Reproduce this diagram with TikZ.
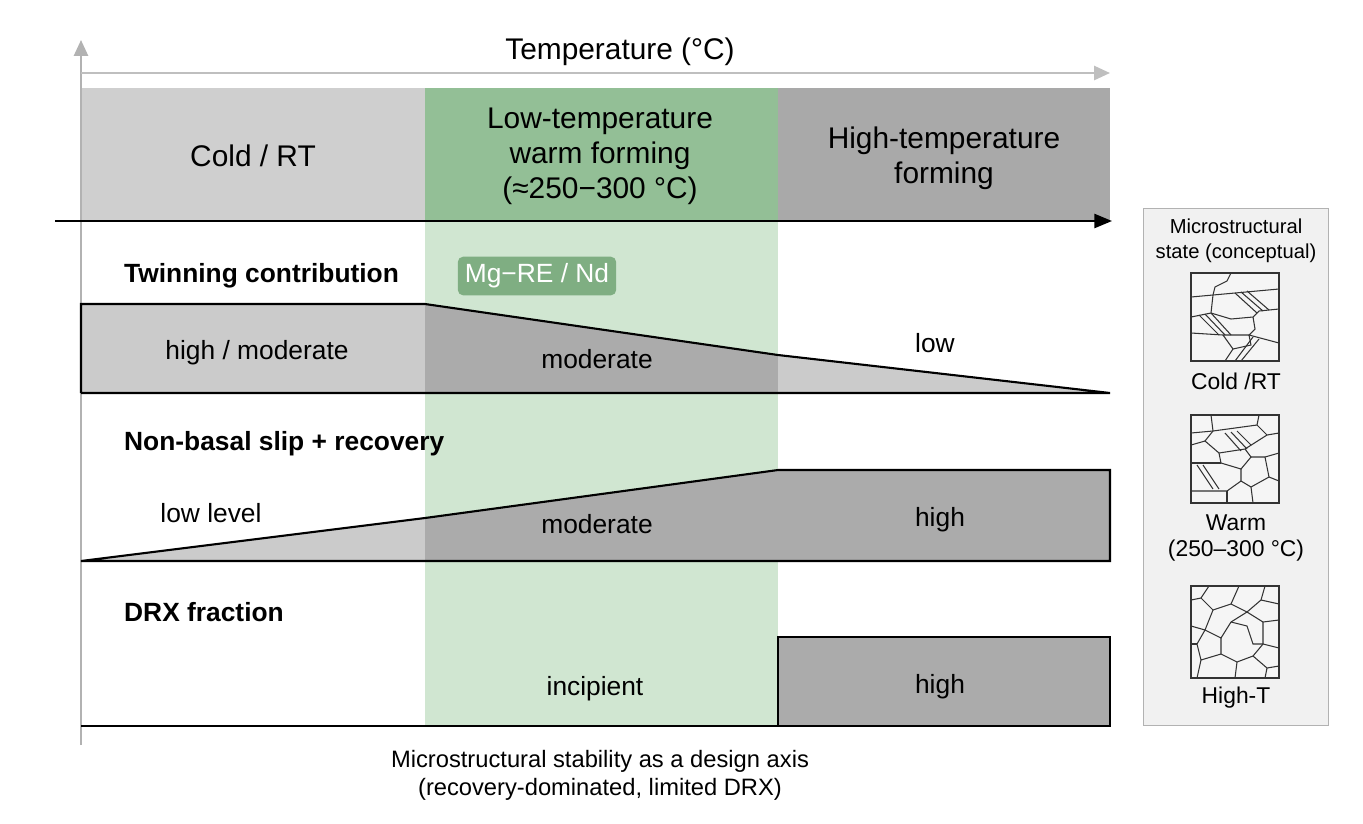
\documentclass[tikz,border=0pt]{standalone}
\usepackage{fontspec}
\setmainfont{Liberation Sans}
\usetikzlibrary{arrows.meta}
\definecolor{coldgray}{HTML}{CFCFCF}
\definecolor{hotgray}{HTML}{A9A9A9}
\definecolor{warmgreen}{HTML}{93BF96}
\definecolor{palegreen}{HTML}{D0E6D1}
\definecolor{badgegreen}{HTML}{7FAE82}
\definecolor{midgray}{HTML}{ABABAB}
\definecolor{lightgray}{HTML}{CBCBCB}
\definecolor{panelgray}{HTML}{F1F1F1}

\begin{document}
\begin{tikzpicture}[x=0.02cm, y=-0.02cm,
	band/.style={font=\fontsize{17}{20}\selectfont, align=center},
	heading/.style={font=\fontsize{15}{18}\selectfont\bfseries, anchor=west},
	level/.style={font=\fontsize{15}{18}\selectfont},
	small/.style={font=\fontsize{11.5}{14}\selectfont, align=center},
	grain/.style={line width=0.6pt, black!80},
	]
	\useasboundingbox (0,0) rectangle (1363,823);
	
	% header bands and warm window
	\fill[palegreen] (425,220) rectangle (778,727);
	\fill[coldgray] (81,88) rectangle (425,220);
	\fill[warmgreen] (425,88) rectangle (778,220);
	\fill[hotgray] (778,88) rectangle (1110,220);
	\node[band] at (253,156) (cold) {Cold / RT};
	\node[band] at (600,156) (warm) {Low-temperature\\warm forming\\(≈250−300 °C)};
	\node[band] at (944,158) (hot) {High-temperature\\forming};
	
	% axes
	\coordinate (yaxis0) at (81,745);
	\coordinate (yaxis1) at (81,40);
	\coordinate (taxis0) at (81,73);
	\coordinate (taxis1) at (1110,73);
	\coordinate (xaxis0) at (55,221);
	\coordinate (xaxis1) at (1112,221);
	\draw[black!30, line width=1.2pt, -{Triangle[width=8pt,length=9pt]}] (yaxis0) -- (yaxis1);
	\draw[black!25, line width=1.2pt, -{Triangle[width=8pt,length=9pt]}] (taxis0) -- (taxis1);
	\draw[black, line width=1.2pt, -{Triangle[width=8pt,length=10pt]}] (xaxis0) -- (xaxis1);
	\node[band] at (620,52) (temp) {Temperature (°C)};
	
	% twinning contribution
	\node[heading] at (118,276) (twin) {Twinning contribution};
	\node[fill=badgegreen, text=white, rounded corners=3pt, level, inner sep=4pt] at (537,276) (badge) {Mg−RE / Nd};
	\fill[lightgray] (81,304) -- (425,304) -- (425,393) -- (81,393) -- cycle;
	\fill[midgray] (425,304) -- (778,355) -- (778,393) -- (425,393) -- cycle;
	\fill[lightgray] (778,355) -- (1110,393) -- (778,393) -- cycle;
	\draw[line width=1.2pt] (81,393) -- (81,304) -- (425,304) -- (778,355) -- (1110,393) -- (81,393);
	\node[level] at (257,353) (twinhigh) {high / moderate};
	\node[level] at (597,359) (twinmod) {moderate};
	\node[level] at (935,343) (twinlow) {low};
	
	% non-basal slip + recovery
	\node[heading] at (118,444) (slip) {Non-basal slip + recovery};
	\fill[lightgray] (81,561) -- (425,518) -- (425,561) -- cycle;
	\fill[midgray] (425,518) -- (778,470) -- (1110,470) -- (1110,561) -- (425,561) -- cycle;
	\draw[line width=1.2pt] (81,561) -- (425,518) -- (778,470) -- (1110,470) -- (1110,561) -- cycle;
	\node[level] at (211,513) (sliplow) {low level};
	\node[level] at (597,524) (slipmod) {moderate};
	\node[level] at (940,520) (sliphigh) {high};
	
	% DRX fraction
	\node[heading] at (118,612) (drx) {DRX fraction};
	\fill[midgray] (778,637) rectangle (1110,726);
	\draw[line width=1.2pt] (81,726) -- (778,726) -- (778,637) -- (1110,637) -- (1110,726) -- (778,726);
	\node[level] at (595,689) (drxinc) {incipient};
	\node[level] at (940,687) (drxhigh) {high};
	
	\node[font=\fontsize{13.5}{16}\selectfont, align=center] at (600,775) (caption) {Microstructural stability as a design axis\\(recovery-dominated, limited DRX)};
	
	% microstructure panel
	\draw[black!30, fill=panelgray] (1143,208) rectangle (1328,725);
	\node[small] at (1236,241) (paneltitle) {Microstructural\\state (conceptual)};
	\node[small, font=\fontsize{13}{15}\selectfont] at (1236,381) (coldlbl) {Cold /RT};
	\node[small, font=\fontsize{13}{15}\selectfont] at (1236,538) (warmlbl) {Warm\\(250–300 °C)};
	\node[small, font=\fontsize{13}{15}\selectfont] at (1236,698) (hotlbl) {High-T};
	
	% cold grains
	\begin{scope}[shift={(1191,273)}]
		\fill[white!96!black] (0,0) rectangle (88,88);
		\draw[grain] (0,24) -- (22,22) -- (88,16);
		\draw[grain] (40,0) -- (36,8) -- (24,14) -- (22,22);
		\draw[grain] (22,22) -- (20,40) -- (0,44);
		\draw[grain] (20,40) -- (40,46) -- (62,44) -- (68,38) -- (88,36);
		\draw[grain] (62,44) -- (64,56) -- (58,62) -- (88,70);
		\draw[grain] (58,62) -- (32,62) -- (0,60);
		\draw[grain] (32,62) -- (42,76) -- (34,88);
		\draw[grain] (42,76) -- (60,72) -- (58,62);
		\draw[grain] (44,20) -- (66,40);
		\draw[grain] (50,19) -- (72,38);
		\draw[grain] (56,18) -- (78,37);
		\draw[grain] (8,42) -- (28,62);
		\draw[grain] (14,41) -- (34,62);
		\draw[grain] (20,40) -- (40,62);
		\draw[grain] (44,88) -- (62,64);
		\draw[grain] (50,88) -- (68,66);
		\draw[grain] (0,0) rectangle (88,88);
	\end{scope}
	
	% warm grains
	\begin{scope}[shift={(1191,415)}]
		\fill[white!96!black] (0,0) rectangle (88,88);
		\draw[grain] (0,18) -- (22,16) -- (66,10) -- (68,0);
		\draw[grain] (22,16) -- (20,0);
		\draw[grain] (66,10) -- (76,20) -- (88,18);
		\draw[grain] (22,16) -- (14,26) -- (28,38);
		\draw[grain] (0,30) -- (14,26);
		\draw[grain] (28,38) -- (54,34) -- (76,20);
		\draw[grain] (28,38) -- (30,48) -- (50,54) -- (60,42) -- (54,34);
		\draw[grain] (60,42) -- (74,42) -- (78,62) -- (88,66);
		\draw[grain] (74,42) -- (88,38);
		\draw[grain] (50,54) -- (50,66) -- (60,72) -- (78,62);
		\draw[grain] (30,48) -- (0,48);
		\draw[grain] (50,66) -- (36,76) -- (0,76);
		\draw[grain] (60,72) -- (62,88);
		\draw[grain] (36,76) -- (36,88);
		\draw[grain] (34,18) -- (50,36);
		\draw[grain] (40,17) -- (56,34);
		\draw[grain] (46,16) -- (60,30);
		\draw[grain] (6,50) -- (22,74);
		\draw[grain] (12,50) -- (28,74);
		\draw[grain] (0,0) rectangle (88,88);
	\end{scope}
	
	% high-T grains
	\begin{scope}[shift={(1191,586)}]
		\fill[white!96!black] (0,0) rectangle (88,92);
		\draw[grain] (0,14) -- (10,12) -- (18,0);
		\draw[grain] (10,12) -- (22,24) -- (40,18) -- (48,0);
		\draw[grain] (40,18) -- (56,26) -- (70,14) -- (74,0);
		\draw[grain] (70,14) -- (88,18);
		\draw[grain] (0,40) -- (14,44) -- (22,24);
		\draw[grain] (14,44) -- (30,52) -- (40,36) -- (56,26);
		\draw[grain] (56,26) -- (72,36) -- (88,34);
		\draw[grain] (72,36) -- (72,58) -- (88,62);
		\draw[grain] (30,52) -- (30,68) -- (46,76) -- (62,70) -- (72,58);
		\draw[grain] (40,36) -- (56,40) -- (62,58) -- (72,58);
		\draw[grain] (14,44) -- (6,58) -- (10,74) -- (30,68);
		\draw[grain] (0,58) -- (6,58);
		\draw[grain] (10,74) -- (6,92);
		\draw[grain] (46,76) -- (44,92);
		\draw[grain] (62,70) -- (76,82) -- (88,80);
		\draw[grain] (76,82) -- (74,92);
		\draw[grain] (0,0) rectangle (88,92);
	\end{scope}
\end{tikzpicture}
\end{document}
